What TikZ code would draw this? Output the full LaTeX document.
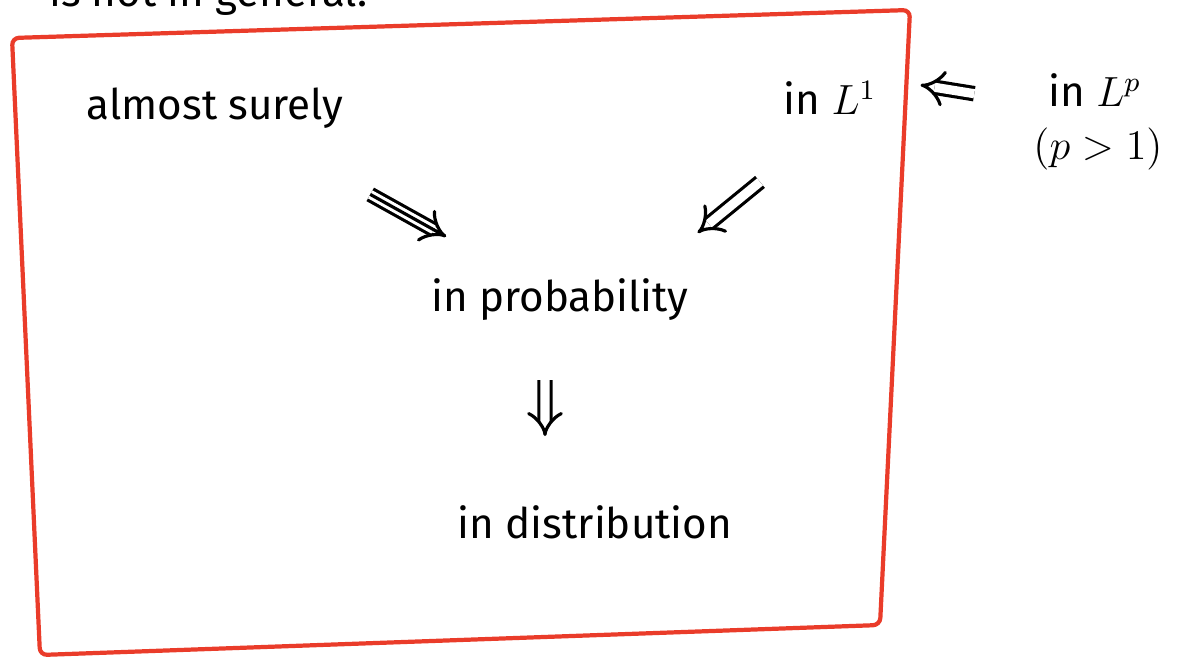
\documentclass[tikz,border=0pt]{standalone}
\usepackage{fontspec}
\setmainfont{Fira Sans}
\usepackage{tikz}
\usetikzlibrary{arrows.meta, positioning, calc}
\definecolor{pen}{RGB}{234,60,42}

\begin{document}
\begin{tikzpicture}[
    lbl/.style={font=\fontsize{12}{15}\selectfont, align=center, inner sep=1pt},
    impl/.style={double, double distance=2.6pt, line width=0.9pt, -{Implies}},
]
    \useasboundingbox (0,0) rectangle (11.92,-6.58);

    % frame
    \draw[pen, line width=1.2pt, rounded corners=2pt] (0.12,-0.38) -- (9.10,-0.10) -- (8.80,-6.25) -- (0.40,-6.55) -- cycle;

    % cut heading
    \node[lbl, anchor=base west] (head) at (0.45,-0.06) {is not in general:};

    \node[lbl] (as) at (2.15,-1.08) {almost surely};
    \node[lbl] (L1) at (8.30,-0.98) {in $L^1$};
    \node[lbl, align=left] (Lp) at (10.98,-1.22) {\hspace{0.15cm}in $L^p$\\$(p>1)$};
    \node[lbl] (prob) at (5.60,-3.00) {in probability};
    \node[lbl] (dist) at (5.95,-5.22) {in distribution};

    \draw[impl] ($(as)!0.45!(prob)$) -- ($(as)!0.67!(prob)$);
    \draw[line width=0.9pt, shorten >=1.5pt] ($(as)!0.45!(prob)$) -- ($(as)!0.67!(prob)$);
    \draw[impl] ($(L1.south)+(-0.70,-0.63)$) -- ($(prob.north east)+(0.05,0.42)$);
    \draw[impl] ($(prob.south)+(-0.15,-0.55)$) -- ($(dist.north)+(-0.50,0.65)$);
    \draw[impl] ($(Lp.north west)+(-0.55,-0.24)$) -- ($(L1.east)+(0.40,0.13)$);
\end{tikzpicture}
\end{document}
